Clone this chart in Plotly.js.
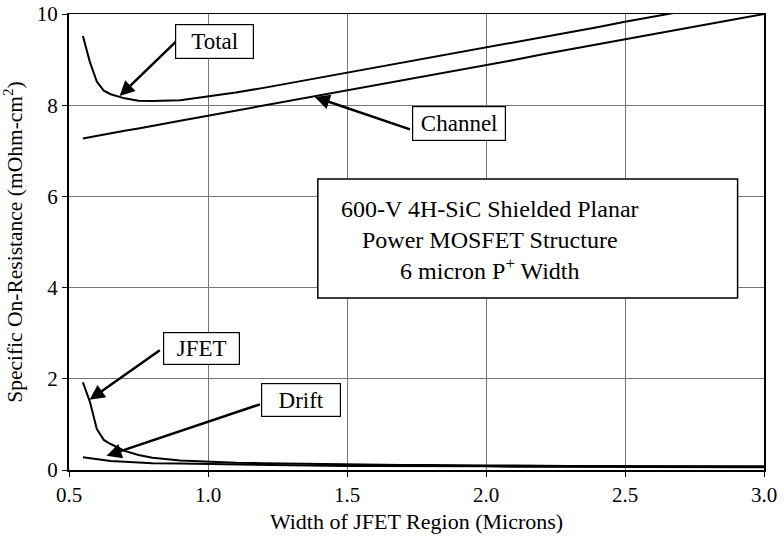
<!DOCTYPE html>
<html>
<head>
<meta charset="utf-8">
<script src="https://cdn.plot.ly/plotly-3.0.1.min.js"></script>
<style>
  html, body { margin: 0; padding: 0; background: #fff; }
  #chart { width: 784px; height: 539px; }
</style>
</head>
<body>
<div id="chart"></div>
<script>
// width of JFET region (microns)
var widthJfet = [0.55, 0.575, 0.6, 0.625, 0.65, 0.7, 0.75, 0.8, 0.9, 1.0,
  1.1, 1.2, 1.3, 1.4, 1.5, 1.6, 1.7, 1.8, 1.9, 2.0,
  2.1, 2.2, 2.3, 2.4, 2.5, 2.6, 2.7, 2.8, 2.9, 3.0];

// specific on-resistance components (mOhm-cm2)
var totalRes = [9.52, 8.95, 8.52, 8.32, 8.24, 8.15, 8.10, 8.09, 8.11, 8.19,
  8.28, 8.38, 8.49, 8.60, 8.71, 8.82, 8.94, 9.05, 9.16, 9.27,
  9.38, 9.49, 9.60, 9.71, 9.83, 9.94, 10.05, 10.16, 10.27, 10.38];
var channelRes = [7.27, 7.30, 7.33, 7.35, 7.38, 7.44, 7.49, 7.55, 7.66, 7.77,
  7.88, 7.99, 8.11, 8.22, 8.33, 8.44, 8.55, 8.66, 8.77, 8.88,
  8.99, 9.11, 9.22, 9.34, 9.45, 9.56, 9.67, 9.78, 9.89, 10.0];
var jfetRes = [1.92, 1.50, 0.90, 0.66, 0.57, 0.42, 0.33, 0.27, 0.21, 0.18,
  0.16, 0.15, 0.14, 0.13, 0.12, 0.12, 0.11, 0.11, 0.10, 0.10,
  0.10, 0.09, 0.09, 0.09, 0.09, 0.08, 0.08, 0.08, 0.08, 0.08];
var driftRes = [0.28, 0.26, 0.24, 0.22, 0.20, 0.18, 0.16, 0.15, 0.14, 0.13,
  0.12, 0.11, 0.10, 0.10, 0.09, 0.09, 0.09, 0.08, 0.08, 0.08,
  0.07, 0.07, 0.07, 0.07, 0.07, 0.06, 0.06, 0.06, 0.06, 0.06];

var xTicks = [0.5, 1.0, 1.5, 2.0, 2.5, 3.0];
var yTicks = [0, 2, 4, 6, 8, 10];

var serif = "Liberation Serif";

function curve(y) {
  return {
    x: widthJfet, y: y, type: 'scatter', mode: 'lines',
    line: { color: '#000', width: 2 }, hoverinfo: 'skip'
  };
}
var data = [curve(totalRes), curve(channelRes), curve(jfetRes), curve(driftRes)];

function label(text, x, y, w, h) {
  return {
    text: text, x: x, y: y, xref: 'x', yref: 'y', showarrow: false,
    width: w, height: h, bgcolor: '#fff', bordercolor: '#000',
    borderwidth: 1.2, borderpad: 0, font: { family: serif, size: 23, color: '#000' }
  };
}
// arrow drawn from tail (ax, ay) to head (x, y), both in data units
function arrow(x, y, ax, ay) {
  return {
    text: '', x: x, y: y, ax: ax, ay: ay, axref: 'x', ayref: 'y',
    xref: 'x', yref: 'y', showarrow: true, arrowhead: 2, arrowsize: 1.2,
    arrowwidth: 2.5, arrowcolor: '#000', standoff: 0, startstandoff: 0
  };
}

var layout = {
  width: 784, height: 539,
  margin: { l: 69, r: 20, t: 14, b: 69 },
  paper_bgcolor: '#fff', plot_bgcolor: '#fff',
  showlegend: false,
  font: { family: serif, size: 21, color: '#000' },
  xaxis: {
    range: [0.5, 3.0], tickvals: xTicks, tickformat: '.1f',
    showgrid: true, gridcolor: '#777', gridwidth: 1, zeroline: false,
    showline: true, linecolor: '#000', linewidth: 1.5, mirror: true,
    ticks: 'outside', ticklen: 5, tickcolor: '#000',
    tickfont: { family: serif, size: 21 },
    title: { text: 'Width of JFET Region (Microns)', standoff: 8, font: { family: serif, size: 22 } }
  },
  yaxis: {
    range: [0, 10], tickvals: yTicks,
    showgrid: true, gridcolor: '#777', gridwidth: 1, zeroline: false,
    showline: true, linecolor: '#000', linewidth: 2, mirror: true,
    ticks: 'outside', ticklen: 5, tickcolor: '#000',
    tickfont: { family: serif, size: 21 },
    title: { text: 'Specific On-Resistance (mOhm-cm<sup>2</sup>)', standoff: 12, font: { family: serif, size: 21.5 } }
  },
  shapes: [{
    type: 'rect', xref: 'x', yref: 'y', x0: 1.395, x1: 2.905, y0: 3.77, y1: 6.38,
    fillcolor: '#fff', line: { color: '#000', width: 1.5 }, layer: 'above'
  }],
  annotations: [
    arrow(0.682, 8.20, 0.891, 9.43),
    arrow(1.384, 8.18, 1.732, 7.46),
    arrow(0.574, 1.54, 0.832, 2.65),
    arrow(0.635, 0.31, 1.192, 1.45),
    label('Total', 1.024, 9.39, 77, 33),
    label('Channel', 1.902, 7.59, 92, 33),
    label('JFET', 0.976, 2.66, 75, 31),
    label('Drift', 1.336, 1.54, 78, 32),
    {
      text: '600-V 4H-SiC Shielded Planar<br>Power MOSFET Structure<br>6 micron P<sup>+</sup> Width',
      x: 2.013, y: 5.04, xref: 'x', yref: 'y', showarrow: false,
      font: { family: serif, size: 24, color: '#000' }
    }
  ]
};

Plotly.newPlot('chart', data, layout, { displayModeBar: false, staticPlot: true });
</script>
</body>
</html>
